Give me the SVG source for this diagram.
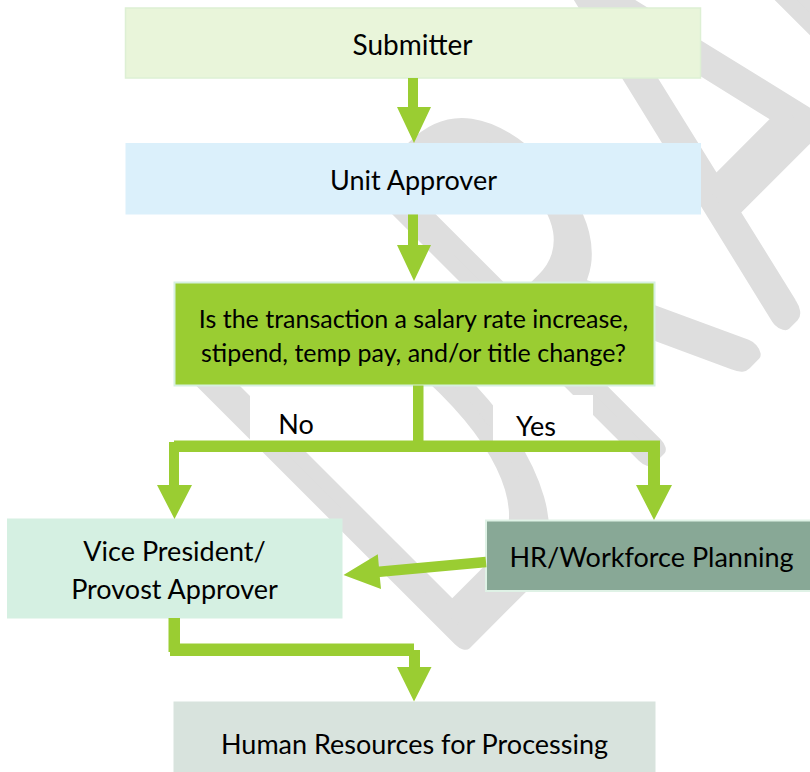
<svg xmlns="http://www.w3.org/2000/svg" width="810" height="772" viewBox="0 0 810 772">
  <style>
    .lbl { font-family: Lato, "Liberation Sans", sans-serif; fill: #000; text-anchor: middle; dominant-baseline: central; }
    .big { font-size: 27px; }
    .mid { font-size: 25px; }
    .wm { font-family: Lato, "Open Sans", sans-serif; font-weight: 300; font-size: 530px; fill: #dedede; stroke: #dedede; stroke-width: 21px; stroke-linejoin: round; vector-effect: non-scaling-stroke; }
    .flow { fill: #9ACD32; }
  </style>
  <rect width="810" height="772" fill="#ffffff"/>

  <!-- diagonal watermark, condensed along the baseline -->
  <g id="watermark">
    <text class="wm" transform="translate(463,648) rotate(-45) scale(0.58,1)" x="-48 400 780" y="-8">DRAFT</text>
  </g>

  <!-- white backing behind the branch labels -->
  <rect x="250" y="393" width="163" height="48" fill="#ffffff"/>
  <rect x="493" y="395" width="100" height="46" fill="#ffffff"/>

  <g id="submitter">
    <rect x="125.5" y="8" width="575" height="70" fill="#e9f5da" stroke="#ddf0d4" stroke-width="1.5"/>
    <text class="lbl" style="font-size:28px" x="412.5" y="43.5">Submitter</text>
  </g>
  <g id="unit-approver">
    <rect x="125.5" y="143" width="575.5" height="71.5" fill="#dbf0fb"/>
    <text class="lbl big" x="413.5" y="179.5">Unit Approver</text>
  </g>
  <g id="decision">
    <rect x="174.5" y="282.5" width="480" height="103" fill="#9ACD32" stroke="#d6f0e0" stroke-width="2"/>
    <text class="lbl mid" x="413.5" y="317.5">Is the transaction a salary rate increase,</text>
    <text class="lbl mid" x="413.5" y="352">stipend, temp pay, and/or title change?</text>
  </g>
  <g id="vp-approver">
    <rect x="7" y="518.5" width="335.5" height="100" fill="#d5f0e2"/>
    <text class="lbl big" x="174.5" y="550">Vice President/</text>
    <text class="lbl big" x="174.5" y="588.5">Provost Approver</text>
  </g>
  <g id="hr-workforce">
    <rect x="486" y="520.5" width="325" height="70.5" fill="#88a896" stroke="#dff2e6" stroke-width="2"/>
    <text class="lbl big" x="651.5" y="556.5">HR/Workforce Planning</text>
  </g>
  <g id="hr-processing">
    <rect x="173.5" y="701.5" width="482" height="72" fill="#d8e3dd"/>
    <text class="lbl big" x="414.5" y="743.5">Human Resources for Processing</text>
  </g>

  <g id="labels">
    <text class="lbl big" x="296" y="423">No</text>
    <text class="lbl big" x="536" y="425">Yes</text>
  </g>

  <g id="connectors">
    <!-- Submitter to Unit Approver -->
    <polygon class="flow" points="408,78 418,78 418,107 431,107 414,143 397,107 408,107"/>
    <!-- Unit Approver to decision -->
    <polygon class="flow" points="408,214.5 418,214.5 418,245 431,245 414,281 397,245 408,245"/>
    <!-- decision split into No / Yes -->
    <rect class="flow" x="413" y="385.5" width="10.5" height="56"/>
    <rect class="flow" x="174" y="440.5" width="486" height="11.5"/>
    <polygon class="flow" points="169,442 179,442 179,485 192,485 174.5,519 157,485 169,485"/>
    <polygon class="flow" points="648,442 660,442 660,485 672,485 654,520 636,485 648,485"/>
    <!-- HR/Workforce Planning to VP -->
    <polygon class="flow" points="486.5,567.3 485.5,556.7 378.9,566.4 377.8,554.3 343.5,575 381,589.1 379.8,577"/>
    <!-- VP to Human Resources -->
    <rect class="flow" x="168.5" y="618" width="11.5" height="34"/>
    <rect class="flow" x="170" y="643.5" width="244" height="12.5"/>
    <polygon class="flow" points="409,650 420,650 420,667 431.5,667 414,701.5 397,667 409,667"/>
  </g>
</svg>
